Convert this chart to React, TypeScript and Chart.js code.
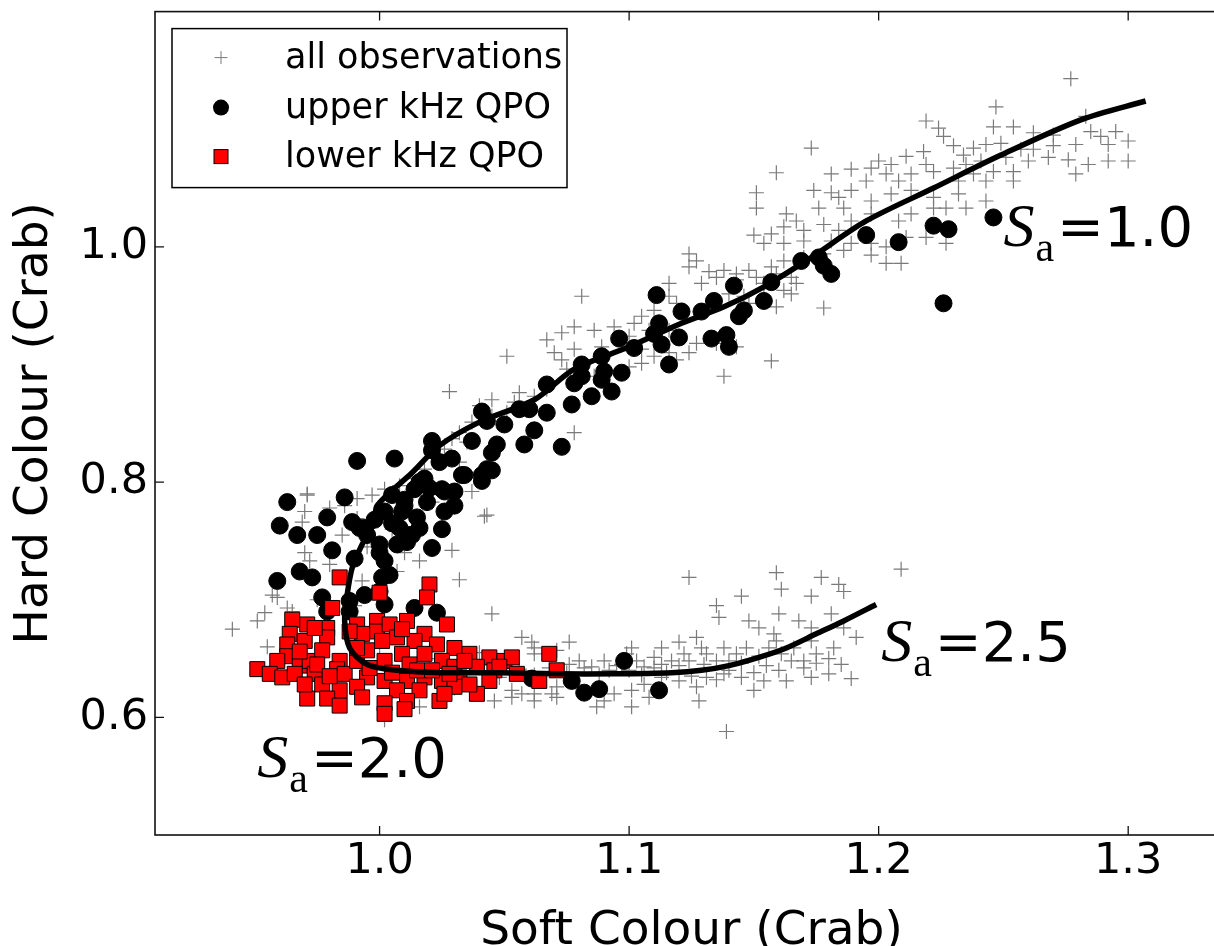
import React, { useEffect, useRef } from "react";
import { Chart, registerables } from "chart.js";

Chart.register(...registerables);

// ---------- data (Soft colour, Hard colour in Crab units) ----------
const allObsUpper: [number, number][] = [
  [1.277,1.143],[1.247,1.119],[1.219,1.107],[1.224,1.101],[1.246,1.102],[1.254,1.102],[1.262,1.097],[1.270,1.095],
  [1.283,1.111],[1.285,1.098],[1.289,1.094],[1.295,1.098],[1.300,1.090],[1.292,1.087],[1.279,1.087],[1.270,1.086],
  [1.262,1.083],[1.257,1.083],[1.249,1.088],[1.243,1.087],[1.238,1.084],[1.234,1.078],[1.226,1.094],[1.230,1.086],
  [1.218,1.081],[1.211,1.077],[1.205,1.070],[1.200,1.073],[1.197,1.067],[1.189,1.066],[1.181,1.062],[1.219,1.070],
  [1.222,1.064],[1.213,1.062],[1.230,1.067],[1.235,1.070],[1.241,1.073],[1.251,1.076],[1.260,1.073],[1.268,1.076],
  [1.276,1.074],[1.284,1.070],[1.292,1.073],[1.300,1.073],[1.279,1.062],[1.254,1.064],[1.246,1.064],[1.238,1.062],
  [1.232,1.056],[1.243,1.056],[1.254,1.056],[1.208,1.056],[1.203,1.062],[1.195,1.056],[1.189,1.048],[1.181,1.046],
  [1.174,1.048],[1.173,1.084],[1.159,1.063],[1.151,1.046],[1.151,1.033],[1.163,1.028],[1.167,1.022],[1.176,1.033],
  [1.184,1.042],[1.186,1.033],[1.197,1.039],[1.205,1.045],[1.213,1.048],[1.222,1.042],[1.227,1.033],[1.235,1.033],
  [1.243,1.039],[1.232,1.045],[1.222,1.033],[1.213,1.028],[1.208,1.022],[1.197,1.028],[1.189,1.022],[1.184,1.014],
  [1.178,1.019],[1.170,1.014],[1.162,1.017],[1.157,1.011],[1.150,1.010],[1.154,1.003],[1.162,1.003],[1.170,1.005],
  [1.181,1.005],[1.189,1.003],[1.197,1.003],[1.203,1.000],[1.211,1.008],[1.219,1.008],[1.227,1.003],[1.197,0.993],
  [1.203,0.986],[1.209,0.986],[1.186,0.997],[1.178,0.994],[1.170,0.991],[1.162,0.988],[1.157,0.983],[1.148,0.980],
  [1.143,0.977],[1.138,0.980],[1.132,0.979],[1.124,0.983],[1.124,0.994],[1.127,0.988],[1.135,0.974],[1.143,0.972],
  [1.151,0.974],[1.159,0.977],[1.165,0.974],[1.167,0.969],[1.162,0.963],[1.165,0.960],[1.154,0.958],[1.146,0.958],
  [1.148,0.952],[1.159,0.949],[1.178,0.948],[1.154,0.969],[1.140,0.960],[1.129,0.969],[1.116,0.969],[1.116,0.958],
  [1.119,0.952],[1.110,0.946],[1.105,0.941],[1.102,0.935],[1.094,0.932],[1.086,0.929],[1.081,0.958],[1.078,0.932],
  [1.073,0.927],[1.067,0.921],[1.070,0.910],[1.073,0.904],[1.078,0.913],[1.089,0.915],[1.097,0.918],[1.105,0.913],
  [1.110,0.907],[1.116,0.910],[1.124,0.910],[1.119,0.904],[1.105,0.901],[1.100,0.898],[1.097,0.893],[1.086,0.890],
  [1.081,0.887],[1.075,0.896],[1.067,0.879],[1.062,0.873],[1.056,0.876],[1.054,0.868],[1.051,0.907],[1.045,0.870],
  [1.040,0.865],[1.078,0.842],[1.051,0.859],[1.045,0.856],[1.037,0.851],[1.032,0.842],[1.029,0.837],[1.026,0.828],
  [1.024,0.823],[1.028,0.877],[1.035,0.834],[1.032,0.817],[1.018,0.811],[1.013,0.803],[1.008,0.797],[1.002,0.794],
  [0.997,0.789],[0.991,0.786],[0.986,0.780],[0.980,0.778],[0.971,0.789],[0.970,0.775],[0.991,0.769],[1.002,0.769],
  [1.013,0.772],[1.021,0.783],[1.029,0.780],[1.037,0.792],[1.043,0.772],[1.138,0.890],[1.157,0.903],[1.143,0.915],
  [1.135,0.918],[1.127,0.918],[1.116,0.929],[1.108,0.929],[1.100,0.924],
];

const allObsLower: [number, number][] = [
  [0.941,0.675],[0.954,0.689],[0.959,0.702],[0.971,0.790],[0.969,0.766],[1.042,0.771],[1.029,0.742],[1.032,0.717],
  [1.045,0.688],[1.016,0.733],[1.007,0.724],[0.993,0.716],[0.972,0.733],[0.957,0.704],[0.963,0.693],[0.951,0.682],
  [1.057,0.668],[1.061,0.664],[1.076,0.664],[1.062,0.654],[1.048,0.634],[1.053,0.623],[1.057,0.620],[1.062,0.620],
  [1.069,0.620],[1.071,0.626],[1.076,0.645],[1.080,0.648],[1.085,0.643],[1.090,0.648],[1.092,0.640],[1.097,0.645],
  [1.099,0.654],[1.103,0.648],[1.106,0.643],[1.110,0.651],[1.113,0.645],[1.117,0.648],[1.122,0.654],[1.124,0.648],
  [1.129,0.659],[1.131,0.654],[1.135,0.648],[1.138,0.659],[1.140,0.648],[1.143,0.654],[1.147,0.659],[1.152,0.652],
  [1.156,0.659],[1.161,0.654],[1.166,0.659],[1.170,0.648],[1.175,0.654],[1.182,0.659],[1.189,0.633],[1.180,0.637],
  [1.173,0.634],[1.163,0.631],[1.154,0.631],[1.150,0.623],[1.145,0.634],[1.138,0.637],[1.131,0.634],[1.127,0.626],
  [1.128,0.614],[1.120,0.631],[1.113,0.634],[1.106,0.628],[1.101,0.623],[1.094,0.620],[1.090,0.614],[1.087,0.609],
  [1.101,0.609],[1.108,0.617],[1.071,0.617],[1.062,0.614],[1.053,0.617],[1.016,0.609],[1.002,0.598],[1.139,0.588],
  [1.124,0.719],[1.145,0.703],[1.159,0.723],[1.161,0.709],[1.173,0.703],[1.177,0.719],[1.184,0.713],[1.186,0.707],
  [1.209,0.726],[1.135,0.695],[1.136,0.685],[1.148,0.682],[1.152,0.676],[1.158,0.671],[1.160,0.688],[1.168,0.682],
  [1.173,0.676],[1.181,0.688],[1.186,0.676],[1.191,0.668],[1.173,0.665],[1.159,0.665],[1.127,0.668],[1.120,0.664],
  [1.113,0.659],[1.101,0.659],[1.062,0.659],[1.071,0.657],[1.053,0.648],[1.039,0.626],[1.046,0.614],
  [1.075,0.638],[1.082,0.642],[1.088,0.636],[1.095,0.644],[1.100,0.640],[1.105,0.636],[1.110,0.642],[1.115,0.638],
  [1.120,0.644],[1.125,0.635],[1.130,0.645],[1.135,0.632],[1.140,0.640],[1.145,0.646],[1.150,0.638],[1.155,0.644],
  [1.160,0.640],[1.165,0.648],[1.170,0.642],[1.175,0.646],[1.180,0.650],[1.185,0.645],[1.068,0.642],[1.062,0.636],
  [1.056,0.641],[0.955,0.660],[0.965,0.690],[0.975,0.700],[0.990,0.695],[1.000,0.660],[1.020,0.650],[1.030,0.625],
  [1.040,0.655],[0.970,0.740],[0.985,0.755],[0.995,0.745],[1.005,0.760],[0.980,0.730],[1.010,0.740],[1.015,0.770],
];

const upperQPO: [number, number][] = [
  [1.246,1.025],[1.222,1.018],[1.228,1.015],[1.208,1.004],[1.195,1.010],[1.226,0.952],[1.176,0.991],[1.169,0.988],
  [1.178,0.984],[1.181,0.977],[1.157,0.970],[1.142,0.967],[1.154,0.954],[1.146,0.946],[1.144,0.941],[1.134,0.954],
  [1.129,0.945],[1.121,0.945],[1.111,0.959],[1.112,0.935],[1.110,0.926],[1.120,0.923],[1.113,0.917],[1.133,0.922],
  [1.139,0.925],[1.140,0.915],[1.116,0.900],[1.096,0.922],[1.102,0.914],[1.089,0.907],[1.081,0.900],[1.090,0.894],
  [1.097,0.893],[1.089,0.887],[1.081,0.890],[1.067,0.883],[1.078,0.884],[1.085,0.873],[1.093,0.877],[1.077,0.866],
  [1.067,0.859],[1.060,0.862],[1.056,0.862],[1.041,0.860],[1.043,0.852],[1.050,0.849],[1.062,0.844],[1.058,0.832],
  [1.073,0.830],[1.047,0.832],[1.037,0.835],[1.021,0.835],[1.021,0.827],[1.029,0.820],[1.045,0.825],[1.043,0.811],
  [1.041,0.801],[1.033,0.806],[1.024,0.817],[1.018,0.803],[1.026,0.792],[1.014,0.794],[1.006,0.820],[0.991,0.818],
  [1.005,0.789],[1.010,0.780],[1.026,0.775],[1.002,0.775],[0.998,0.768],[0.986,0.787],[0.963,0.783],[0.979,0.770],
  [0.989,0.766],[0.994,0.761],[0.960,0.763],[0.967,0.755],[0.975,0.755],[1.008,0.761],[1.013,0.755],
  [0.981,0.742],[0.968,0.724],[0.973,0.719],[0.959,0.716],[0.992,0.761],[1.000,0.747],[1.002,0.733],[1.007,0.747],
  [1.011,0.749],[1.016,0.761],[1.021,0.744],[1.009,0.775],[1.019,0.783],[1.030,0.792],[1.034,0.806],[1.041,0.806],
  [1.045,0.810],[1.016,0.800],[1.025,0.794],[1.001,0.719],[1.004,0.721],[0.988,0.699],[0.994,0.704],[1.000,0.707],
  [1.002,0.696],[0.977,0.702],[0.979,0.690],[0.988,0.690],[1.014,0.693],[1.023,0.689],[1.061,0.633],[1.077,0.631],
  [1.082,0.621],[1.088,0.624],[1.098,0.648],[1.112,0.623],[1.010,0.785],[1.020,0.795],[1.030,0.780],[1.015,0.770],
  [1.005,0.765],[0.995,0.755],[1.000,0.740],[0.990,0.735],[1.012,0.755],[1.025,0.760],
];

const lowerQPO: [number, number][] = [
  [0.984,0.719],[1.020,0.713],[1.019,0.702],[1.000,0.706],[0.981,0.693],[0.965,0.683],[0.971,0.679],[0.979,0.676],
  [0.991,0.679],[0.999,0.682],[0.999,0.673],[1.004,0.679],[1.011,0.682],[1.018,0.671],[1.027,0.679],[0.964,0.671],
  [0.963,0.662],[0.970,0.665],[0.979,0.668],[0.993,0.671],[1.007,0.668],[1.014,0.665],[1.023,0.662],[1.030,0.659],
  [1.036,0.654],[1.044,0.651],[1.050,0.648],[1.053,0.651],[1.068,0.654],[0.963,0.652],[0.959,0.648],[0.951,0.641],
  [0.956,0.637],[0.961,0.634],[0.968,0.644],[0.972,0.648],[0.977,0.657],[0.984,0.648],[0.983,0.641],[0.974,0.637],
  [0.986,0.637],[0.991,0.648],[0.995,0.657],[1.002,0.648],[1.009,0.654],[1.018,0.654],[1.025,0.648],[1.030,0.643],
  [1.039,0.643],[1.046,0.640],[0.995,0.634],[1.002,0.631],[1.011,0.631],[1.018,0.634],[1.025,0.631],[1.032,0.634],
  [1.044,0.631],[1.064,0.631],[1.071,0.640],[0.977,0.628],[0.984,0.623],[0.991,0.626],[1.007,0.623],[1.016,0.623],
  [1.030,0.626],[1.039,0.620],[0.971,0.616],[0.979,0.616],[0.984,0.610],[0.993,0.617],[1.002,0.612],[1.011,0.614],
  [1.024,0.614],[1.026,0.620],[1.002,0.603],[1.010,0.607],[0.966,0.637],[0.970,0.628],[0.991,0.659],[1.001,0.665],
  [1.012,0.645],[1.021,0.640],[1.034,0.648],[1.048,0.643],[1.055,0.637],[0.988,0.673],[1.009,0.675],[0.974,0.676],
  [0.968,0.656],[0.975,0.645],[0.980,0.635],[0.996,0.642],[1.005,0.638],[1.015,0.640],[1.028,0.637],[1.036,0.628],
];

// model track, from S_a = 2.5 (lower right) through S_a = 2.0 (bend) to S_a = 1.0 (upper right)
const modelTrack: [number, number][] = [
  [1.199,0.696],[1.186,0.682],[1.175,0.671],[1.163,0.659],[1.152,0.651],[1.140,0.644],[1.129,0.640],[1.117,0.638],
  [1.094,0.637],[1.071,0.637],[1.048,0.638],[1.025,0.638],[1.007,0.640],[0.995,0.645],[0.988,0.659],[0.986,0.682],
  [0.987,0.704],[0.989,0.727],[0.993,0.747],[0.998,0.766],[0.999,0.780],[1.013,0.808],[1.024,0.831],[1.040,0.851],
  [1.062,0.870],[1.078,0.896],[1.100,0.915],[1.121,0.935],[1.138,0.949],[1.154,0.966],[1.173,0.991],[1.195,1.022],
  [1.222,1.050],[1.249,1.078],[1.281,1.108],[1.307,1.124],
];

const xTickValues = [1.0, 1.1, 1.2, 1.3];
const yTickValues = [0.6, 0.8, 1.0];
const xRange = [0.91, 1.34];
const yRange = [0.5, 1.2];
const legendLabels = ["all observations", "upper kHz QPO", "lower kHz QPO"];
const saLabels = [
  { value: "1.0", x: 1.25, y: 1.001 },
  { value: "2.5", x: 1.201, y: 0.648 },
  { value: "2.0", x: 0.951, y: 0.549 },
];

// ---------- layout ----------
const CW = 1260;
const CH = 1000;
const AREA_LEFT = 155;
const AREA_TOP = 7;
const AREA_RIGHT = 1228;
const AREA_BOTTOM = 835;
const SANS = '"DejaVu Sans", sans-serif';
const GREY = "#7a7a7a";

const toPts = (arr: [number, number][]) => arr.map(([x, y]) => ({ x, y }));

const decorPlugin = {
  id: "decor",
  afterDatasetsDraw(chart: any) {
    const { ctx, chartArea, scales } = chart;
    const xs = scales.x;
    const ys = scales.y;
    const { left, right, top, bottom } = chartArea;
    ctx.save();
    // frame
    ctx.strokeStyle = "#111";
    ctx.lineWidth = 1.6;
    ctx.strokeRect(left, top, right - left, bottom - top);
    // inward ticks
    ctx.lineWidth = 1.3;
    const tl = 9;
    ctx.beginPath();
    xTickValues.forEach((v) => {
      const px = xs.getPixelForValue(v);
      ctx.moveTo(px, bottom);
      ctx.lineTo(px, bottom - tl);
      ctx.moveTo(px, top);
      ctx.lineTo(px, top + tl);
    });
    yTickValues.forEach((v) => {
      const py = ys.getPixelForValue(v);
      ctx.moveTo(left, py);
      ctx.lineTo(left + tl, py);
      ctx.moveTo(right, py);
      ctx.lineTo(right - tl, py);
    });
    ctx.stroke();

    // S_a annotations
    saLabels.forEach((lab) => {
      let px = xs.getPixelForValue(lab.x);
      const py = ys.getPixelForValue(lab.y);
      ctx.fillStyle = "#000";
      ctx.textBaseline = "alphabetic";
      ctx.textAlign = "left";
      ctx.font = 'italic 62px "Liberation Serif", serif';
      ctx.fillText("S", px, py);
      px += ctx.measureText("S").width + 1;
      ctx.font = '42px "Liberation Serif", serif';
      ctx.fillText("a", px, py + 15);
      px += ctx.measureText("a").width + 3;
      ctx.font = `56px ${SANS}`;
      ctx.fillText("=" + lab.value, px, py);
    });

    // legend box
    const bx = left + 17;
    const by = top + 17;
    const bw = 395;
    const bh = 159;
    ctx.fillStyle = "#fff";
    ctx.fillRect(bx, by, bw, bh);
    ctx.strokeStyle = "#000";
    ctx.lineWidth = 1.5;
    ctx.strokeRect(bx, by, bw, bh);
    const rows = [by + 29, by + 79, by + 128];
    const mx = bx + 49;
    const tx = bx + 113;
    const ds = chart.data.datasets;
    // cross
    ctx.strokeStyle = ds[3].borderColor;
    ctx.lineWidth = 1;
    ctx.beginPath();
    ctx.moveTo(mx - 6.5, rows[0]);
    ctx.lineTo(mx + 6.5, rows[0]);
    ctx.moveTo(mx, rows[0] - 6.5);
    ctx.lineTo(mx, rows[0] + 6.5);
    ctx.stroke();
    // circle
    ctx.fillStyle = ds[2].backgroundColor;
    ctx.beginPath();
    ctx.arc(mx, rows[1], 8, 0, Math.PI * 2);
    ctx.fill();
    // square
    ctx.fillStyle = ds[1].backgroundColor;
    ctx.fillRect(mx - 7, rows[2] - 7, 14, 14);
    ctx.strokeStyle = "#000";
    ctx.lineWidth = 1;
    ctx.strokeRect(mx - 7, rows[2] - 7, 14, 14);
    ctx.fillStyle = "#000";
    ctx.font = `35px ${SANS}`;
    ctx.textBaseline = "middle";
    legendLabels.forEach((t, i) => ctx.fillText(t, tx, rows[i] + 1));
    ctx.restore();
  },
};

export default function App() {
  const ref = useRef<HTMLCanvasElement>(null);
  useEffect(() => {
    if (!ref.current) return;
    const chart = new Chart(ref.current, {
      type: "scatter",
      data: {
        datasets: [
          {
            label: "model",
            data: toPts(modelTrack),
            showLine: true,
            borderColor: "#000",
            backgroundColor: "#000",
            borderWidth: 5.5,
            pointRadius: 0,
            tension: 0.3,
            order: 0,
          },
          {
            label: legendLabels[2],
            data: toPts(lowerQPO),
            pointStyle: "rect",
            pointRadius: 10.6,
            backgroundColor: "#ff0000",
            borderColor: "#000",
            borderWidth: 1,
            order: 1,
          },
          {
            label: legendLabels[1],
            data: toPts(upperQPO),
            pointStyle: "circle",
            pointRadius: 8.5,
            backgroundColor: "#000",
            borderColor: "#000",
            borderWidth: 1,
            order: 2,
          },
          {
            label: legendLabels[0],
            data: toPts([...allObsUpper, ...allObsLower]),
            pointStyle: "cross",
            pointRadius: 7.5,
            backgroundColor: GREY,
            borderColor: GREY,
            borderWidth: 1.2,
            order: 3,
          },
        ],
      } as any,
      options: {
        animation: false,
        responsive: false,
        maintainAspectRatio: false,
        layout: { padding: { top: AREA_TOP, right: CW - AREA_RIGHT, left: 0, bottom: 0 } },
        plugins: { legend: { display: false }, tooltip: { enabled: false } },
        scales: {
          x: {
            type: "linear",
            min: xRange[0],
            max: xRange[1],
            afterBuildTicks: (s: any) => {
              s.ticks = xTickValues.map((v) => ({ value: v }));
            },
            afterFit: (s: any) => {
              s.height = CH - AREA_BOTTOM;
              s.paddingLeft = 0;
              s.paddingRight = 0;
            },
            grid: { display: false, drawTicks: false },
            border: { display: false },
            ticks: {
              color: "#000",
              font: { family: SANS, size: 43, lineHeight: 1.2 },
              padding: 1,
              maxRotation: 0,
              minRotation: 0,
              autoSkip: false,
              callback: (v: any) => Number(v).toFixed(1),
            },
            title: {
              display: true,
              text: "Soft Colour (Crab)",
              color: "#000",
              font: { family: SANS, size: 47, lineHeight: 1.2 },
              padding: { top: 0, bottom: 40 },
            },
          },
          y: {
            type: "linear",
            min: yRange[0],
            max: yRange[1],
            afterBuildTicks: (s: any) => {
              s.ticks = yTickValues.map((v) => ({ value: v }));
            },
            afterFit: (s: any) => {
              s.width = AREA_LEFT;
              s.paddingTop = 0;
              s.paddingBottom = 0;
            },
            grid: { display: false, drawTicks: false },
            border: { display: false },
            ticks: {
              color: "#000",
              font: { family: SANS, size: 43, lineHeight: 1.2 },
              padding: 7,
              autoSkip: false,
              callback: (v: any) => Number(v).toFixed(1),
            },
            title: {
              display: true,
              text: "Hard Colour (Crab)",
              color: "#000",
              font: { family: SANS, size: 47, lineHeight: 1.2 },
              padding: { top: 7, bottom: 0 },
            },
          },
        },
      } as any,
      plugins: [decorPlugin],
    });
    return () => chart.destroy();
  }, []);
  return (
    <div
      style={{
        position: "fixed",
        left: 0,
        top: 0,
        width: 1214,
        height: 946,
        overflow: "hidden",
        background: "#fff",
      }}
    >
      <canvas ref={ref} width={CW} height={CH} style={{ display: "block", width: CW, height: CH }} />
    </div>
  );
}
